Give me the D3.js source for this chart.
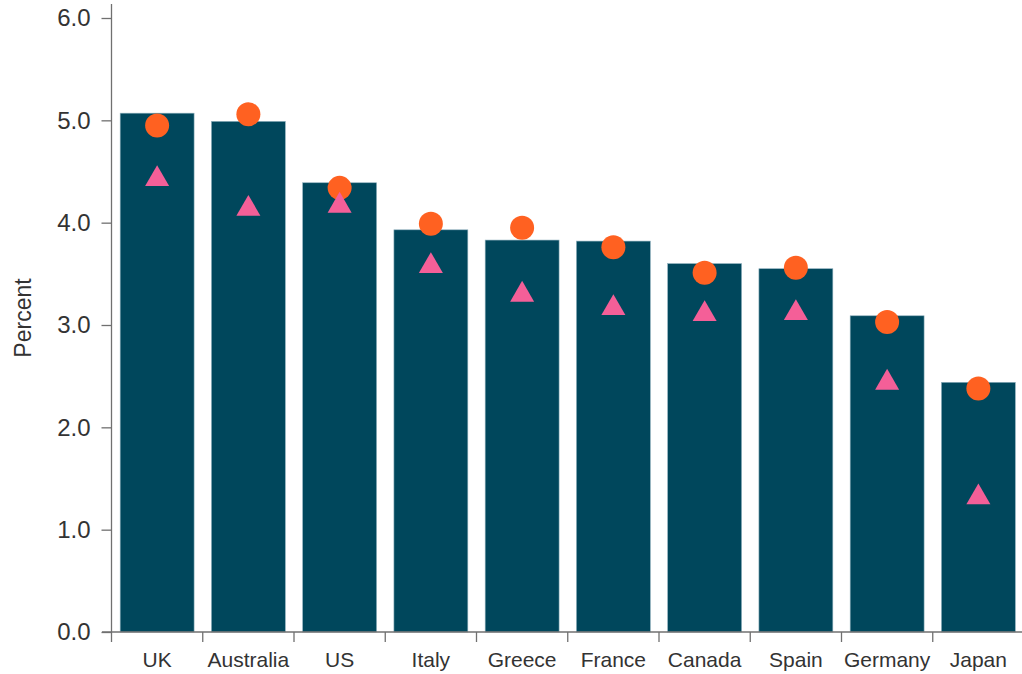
<!DOCTYPE html>
<html>
<head>
<meta charset="utf-8">
<script src="https://cdn.jsdelivr.net/npm/d3@7"></script>
<style>
body { margin: 0; background: #fff; }
text { font-family: "Liberation Sans", Arial, sans-serif; }
</style>
</head>
<body>
<script>
var countries = ["UK", "Australia", "US", "Italy", "Greece", "France", "Canada", "Spain", "Germany", "Japan"];
var barValues = [5.07, 4.99, 4.39, 3.93, 3.83, 3.82, 3.60, 3.55, 3.09, 2.44];
var circleValues = [4.95, 5.06, 4.34, 3.99, 3.95, 3.76, 3.51, 3.56, 3.03, 2.38];
var triangleValues = [4.46, 4.17, 4.20, 3.61, 3.33, 3.20, 3.14, 3.15, 2.47, 1.35];
var yTicks = [0, 1, 2, 3, 4, 5, 6];

var width = 1022, height = 674;
var svg = d3.select("body").append("svg")
	.attr("width", width)
	.attr("height", height);

var x = d3.scaleBand().domain(countries).range([111.5, 1024]);
var y = d3.scaleLinear().domain([0, 6]).range([632, 18]);
var barW = x.bandwidth() * 0.81;

var axisColor = "#707070";
var textColor = "#333";

// bars
svg.selectAll("rect.bar").data(countries).enter()
	.append("rect")
	.attr("class", "bar")
	.attr("x", function(d) { return x(d) + (x.bandwidth() - barW) / 2; })
	.attr("y", function(d, i) { return y(barValues[i]); })
	.attr("width", barW)
	.attr("height", function(d, i) { return y(0) - y(barValues[i]); })
	.attr("fill", "#00475c")
	.attr("stroke", "#8fb0bd")
	.attr("stroke-width", 0.6);

// circles
svg.selectAll("circle.dot").data(countries).enter()
	.append("circle")
	.attr("class", "dot")
	.attr("cx", function(d) { return x(d) + x.bandwidth() / 2; })
	.attr("cy", function(d, i) { return y(circleValues[i]); })
	.attr("r", 12)
	.attr("fill", "#ff6121");

// triangles (value = middle of the triangle's box)
var tri = d3.symbol().type(d3.symbolTriangle).size(250);
svg.selectAll("path.tri").data(countries).enter()
	.append("path")
	.attr("class", "tri")
	.attr("d", tri)
	.attr("transform", function(d, i) {
		return "translate(" + (x(d) + x.bandwidth() / 2) + "," + (y(triangleValues[i]) + 3.5) + ")";
	})
	.attr("fill", "#f45f98");

// y axis
var yAxis = svg.append("g").attr("transform", "translate(111.5,0)")
	.call(d3.axisLeft(y).tickValues(yTicks).tickFormat(d3.format(".1f")).tickSize(10).tickPadding(11));
yAxis.select(".domain").remove();
yAxis.append("line").attr("x1", 0).attr("x2", 0).attr("y1", 4).attr("y2", 632)
	.attr("stroke", axisColor).attr("stroke-width", 1.3);
yAxis.selectAll(".tick line").attr("stroke", axisColor).attr("stroke-width", 1.3);
yAxis.selectAll(".tick text").attr("fill", textColor).attr("font-size", 24)
	.attr("font-family", "Liberation Sans, Arial, sans-serif");

// x axis
var xAxis = svg.append("g").attr("transform", "translate(0,632)");
xAxis.append("line").attr("x1", 102).attr("x2", 1022).attr("y1", 0).attr("y2", 0)
	.attr("stroke", axisColor).attr("stroke-width", 1.3);
xAxis.selectAll("line.tk").data(countries).enter()
	.append("line")
	.attr("class", "tk")
	.attr("x1", function(d) { return x(d); })
	.attr("x2", function(d) { return x(d); })
	.attr("y1", 0).attr("y2", 10)
	.attr("stroke", axisColor).attr("stroke-width", 1.3);
xAxis.selectAll("text").data(countries).enter()
	.append("text")
	.attr("x", function(d) { return x(d) + x.bandwidth() / 2; })
	.attr("y", 35)
	.attr("text-anchor", "middle")
	.attr("fill", textColor)
	.attr("font-size", 21)
	.text(function(d) { return d; });

// y label
svg.append("text")
	.attr("transform", "translate(31,318) rotate(-90)")
	.attr("text-anchor", "middle")
	.attr("fill", textColor)
	.attr("font-size", 23)
	.text("Percent");
</script>
</body>
</html>
